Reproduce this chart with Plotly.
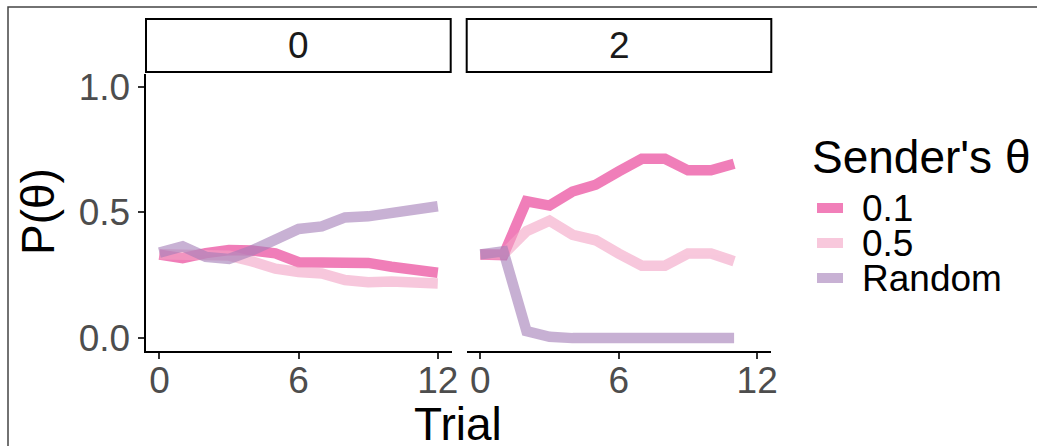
import plotly.graph_objects as go

W, H = 1037, 446

trials = list(range(13))
panels = ["0", "2"]
series = ["0.1", "0.5", "Random"]
colors = {"0.1": "rgb(231,41,138)", "0.5": "rgb(243,163,197)", "Random": "rgb(163,125,183)"}

# Panel "0"
p0_01 = [0.332, 0.318, 0.338, 0.350, 0.348, 0.337, 0.302, 0.300, 0.292, 0.299, 0.284, 0.271, 0.260]
p0_05 = [0.333, 0.330, 0.335, 0.328, 0.305, 0.276, 0.263, 0.257, 0.231, 0.222, 0.225, 0.217, 0.217]
p0_rand = [0.340, 0.365, 0.323, 0.315, 0.349, 0.389, 0.434, 0.444, 0.480, 0.484, 0.498, 0.516, 0.524]
# Panel "2"
p2_01 = [0.332, 0.330, 0.544, 0.527, 0.583, 0.610, 0.663, 0.713, 0.713, 0.667, 0.667, 0.693]
p2_05 = [0.333, 0.333, 0.425, 0.467, 0.411, 0.389, 0.336, 0.288, 0.288, 0.336, 0.336, 0.306]
p2_rand = [0.333, 0.345, 0.028, 0.005, 0.0, 0.0, 0.0, 0.0, 0.0, 0.0, 0.0, 0.0]

data = {
    "0": {"0.1": p0_01, "0.5": p0_05, "Random": p0_rand},
    "2": {"0.1": p2_01, "0.5": p2_05, "Random": p2_rand},
}

xticks = [0, 6, 12]
yticks = [0.0, 0.5, 1.0]
ytick_text = ["0.0", "0.5", "1.0"]

FONT = "Liberation Sans, Arial, sans-serif"
ALPHA = 0.6


def px(x):
    return x / W


def py(y):
    return 1 - y / H


fig = go.Figure()
for i, p in enumerate(panels):
    xa = "x" if i == 0 else "x2"
    ya = "y" if i == 0 else "y2"
    for s in series:
        vals = data[p][s]
        fig.add_trace(go.Scatter(
            x=trials[:len(vals)], y=vals, mode="lines", name=s,
            line=dict(color=colors[s], width=10.5),
            opacity=ALPHA, xaxis=xa, yaxis=ya, showlegend=False,
        ))

ydom = [py(350.7), py(74)]
xdom1 = [px(145.5), px(451.7)]
xdom2 = [px(466.5), px(771.0)]

axis_common = dict(
    range=[-0.6, 12.6], tickvals=xticks, showgrid=False, zeroline=False, automargin=False,
    showline=True, linecolor="black", linewidth=2,
    ticks="outside", ticklen=6, tickwidth=2, tickcolor="#333333", ticklabelstandoff=-10,
    tickfont=dict(size=37, color="#4D4D4D", family=FONT),
)

fig.update_layout(
    template="none",
    width=W, height=H,
    margin=dict(l=0, r=0, t=0, b=0, pad=0, autoexpand=False),
    paper_bgcolor="white", plot_bgcolor="white",
    xaxis=dict(domain=xdom1, anchor="y", **axis_common),
    xaxis2=dict(domain=xdom2, anchor="y2", **axis_common),
    yaxis=dict(domain=ydom, anchor="x", range=[-0.05, 1.05], tickvals=yticks, ticktext=ytick_text,
               showgrid=False, zeroline=False, showline=True, linecolor="black", linewidth=2,
               automargin=False,
               ticks="outside", ticklen=6, tickwidth=2, tickcolor="#333333",
               tickfont=dict(size=37, color="#4D4D4D", family=FONT)),
    yaxis2=dict(domain=ydom, anchor="x2", matches="y", range=[-0.05, 1.05], showgrid=False,
                automargin=False,
                zeroline=False, showline=False, showticklabels=False, ticks=""),
    showlegend=False,
)

shapes = []
annotations = []

# outer frame
shapes.append(dict(type="rect", xref="paper", yref="paper", x0=px(8), x1=px(1050), y0=py(460), y1=py(7),
                   line=dict(color="#444444", width=1.5), fillcolor="rgba(0,0,0,0)", layer="below"))

# strips
for p, (l, r) in zip(panels, [(146, 450.7), (466.7, 771.3)]):
    shapes.append(dict(type="rect", xref="paper", yref="paper", x0=px(l), x1=px(r), y0=py(72), y1=py(19),
                       line=dict(color="black", width=2), fillcolor="white"))
    annotations.append(dict(text=p, xref="paper", yref="paper", x=px((l + r) / 2), y=py(46),
                            xanchor="center", yanchor="middle", showarrow=False,
                            font=dict(size=37, color="#1A1A1A", family=FONT)))

# axis titles
annotations.append(dict(text="Trial", xref="paper", yref="paper", x=px(458), y=py(424),
                        xanchor="center", yanchor="middle", showarrow=False,
                        font=dict(size=46, color="black", family=FONT)))
annotations.append(dict(text="P(θ)", xref="paper", yref="paper", x=px(38), y=py(212),
                        xanchor="center", yanchor="middle", showarrow=False, textangle=-90,
                        font=dict(size=46, color="black", family=FONT)))

# legend
annotations.append(dict(text="Sender's θ", xref="paper", yref="paper", x=px(810), y=py(157),
                        xanchor="left", yanchor="middle", showarrow=False,
                        font=dict(size=46, color="black", family=FONT)))
for k, s in enumerate(series):
    yc = 208 + 35 * k
    c = colors[s].replace("rgb", "rgba").replace(")", f",{ALPHA})")
    shapes.append(dict(type="line", xref="paper", yref="paper", x0=px(817), x1=px(843), y0=py(yc), y1=py(yc),
                       line=dict(color=c, width=10)))
    annotations.append(dict(text=s, xref="paper", yref="paper", x=px(860), y=py(yc),
                            xanchor="left", yanchor="middle", showarrow=False,
                            font=dict(size=37, color="black", family=FONT)))

fig.update_layout(shapes=shapes, annotations=annotations)
fig.write_html("out.html")
